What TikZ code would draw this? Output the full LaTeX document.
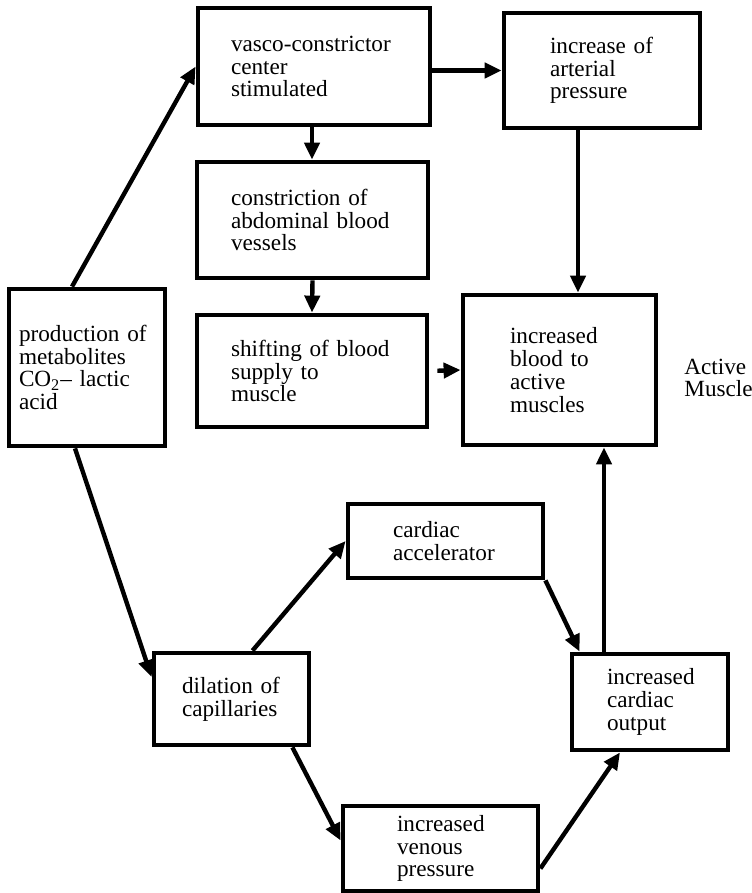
\documentclass[tikz,border=0pt]{standalone}
\usepackage{fontspec}
\setmainfont{Liberation Serif}
\usetikzlibrary{arrows.meta}
\begin{document}
\begin{tikzpicture}[x=0.5pt, y=-0.5pt,
    box/.style={draw, line width=2.4pt, rectangle, inner sep=0pt, align=left,
                font=\fontsize{11.6}{11.4}\selectfont},
    arr/.style={line width=2.2pt, -{Triangle[length=8.5pt,width=7.5pt]}}]
\useasboundingbox (0,0) rectangle (751,893);
% boxes
\node[box, minimum width=116pt, minimum height=58.5pt, text width=83pt] (vaso) at (314,66.5)
    {vasco-constrictor\\center\\stimulated};
\node[box, minimum width=98pt, minimum height=57.5pt, text width=52pt] (arter) at (602,70.5)
    {increase~of\\arterial\\pressure};
\node[box, minimum width=115.5pt, minimum height=58pt, text width=81.5pt] (constr) at (312.5,220)
    {constriction~of\\abdominal~blood\\vessels};
\node[box, minimum width=115pt, minimum height=56pt, text width=81pt] (shift) at (312,371)
    {shifting~of~blood\\supply~to\\muscle};
\node[box, minimum width=78pt, minimum height=78.5pt, text width=68pt] (prod) at (87,367.5)
    {production~of\\metabolites\\CO\textsubscript{2}–~lactic\\acid};
\node[box, minimum width=96.5pt, minimum height=75pt, text width=49.5pt] (blood) at (559.5,370)
    {increased\\blood~to\\active\\muscles};
\node[box, minimum width=97.5pt, minimum height=37pt, text width=52.5pt] (accel) at (445.5,541)
    {cardiac\\accelerator};
\node[box, minimum width=77.5pt, minimum height=46pt, text width=49.5pt] (dil) at (231.5,699)
    {dilation~of\\capillaries};
\node[box, minimum width=78pt, minimum height=48pt, text width=43pt] (output) at (650,702)
    {increased\\cardiac\\output};
\node[box, minimum width=97.5pt, minimum height=42.5pt, text width=43.5pt] (venous) at (440.5,848.5)
    {increased\\venous\\pressure};
\node[anchor=west, align=left, inner sep=0pt, font=\fontsize{11.6}{11.4}\selectfont] (lbl) at (684,378)
    {Active\\Muscle};
% arrows
\draw[arr] ([xshift=-7.5pt]prod.north) -- (vaso.west);
\draw[arr] (vaso.east |- arter.west) -- (arter.west);
\draw[arr] ([xshift=-1pt]vaso.south) -- ([xshift=-1pt]vaso.south |- constr.north);
\draw[arr] (constr.south) -- (shift.north);
\draw[arr] ([xshift=-12pt]arter.south) -- ([xshift=-12pt]arter.south |- blood.north);
\draw[arr, shorten <=4pt] (shift.east) -- (blood.west);
\draw[arr] ([xshift=-6pt]prod.south) -- ([yshift=11pt]dil.west);
\draw[arr] ([xshift=10.5pt]dil.north) -- (accel.west);
\draw[arr] (accel.south east) -- ([xshift=5pt]output.north west);
\draw[arr] ([xshift=-23pt]output.north) -- ([xshift=-23pt]output.north |- blood.south);
\draw[arr] ([xshift=-9.5pt]dil.south east) -- ([yshift=4pt]venous.west);
\draw[arr] ([yshift=-10pt]venous.east) -- ([xshift=-15pt]output.south);
\end{tikzpicture}
\end{document}
